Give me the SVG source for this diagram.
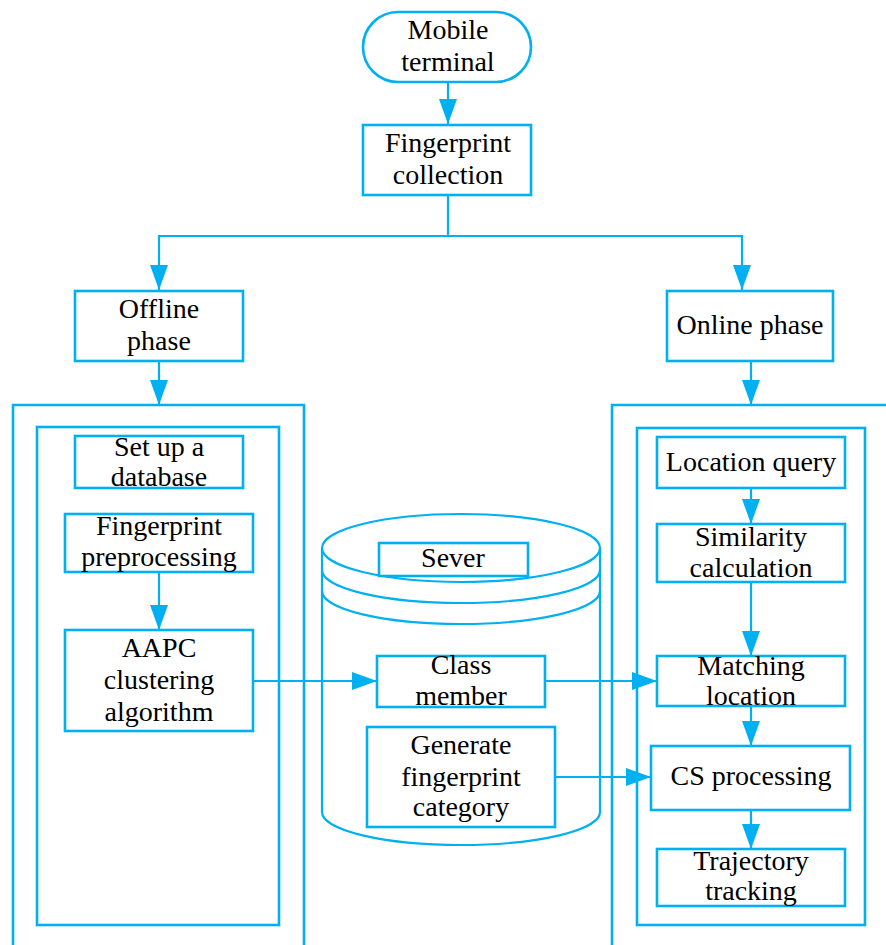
<svg xmlns="http://www.w3.org/2000/svg" width="886" height="945" viewBox="0 0 886 945">
<defs>
<style>
.b{fill:#fff;stroke:#00B0F0;stroke-width:2.6}
.f{fill:none;stroke:#00B0F0;stroke-width:2.6}
.c{fill:none;stroke:#00B0F0;stroke-width:2.2}
.t{font-family:"Liberation Serif","Times New Roman",serif;font-size:28px;fill:#000;text-anchor:middle}
</style>
<marker id="ah" viewBox="0 0 25 18" refX="25" refY="9" markerWidth="25" markerHeight="18" markerUnits="userSpaceOnUse" orient="auto">
<path d="M0,0 L25,9 L0,18 Z" fill="#00B0F0"/>
</marker>
</defs>
<rect width="886" height="945" fill="#fff"/>

<g id="frames">
<path class="f" d="M13,945 V405 H304 V945"/>
<rect class="f" x="37" y="427" width="242" height="498"/>
<path class="f" d="M612,945 V405 H886"/>
<rect class="f" x="637" y="428" width="228" height="497"/>
</g>

<g id="server">
<path class="c" d="M322,548 V812 A139,33 0 0 0 600,812 V548"/>
<ellipse class="c" cx="461" cy="548" rx="139" ry="34"/>
<path class="c" d="M322,570 A139,33 0 0 0 600,570"/>
<path class="c" d="M322,591 A139,33 0 0 0 600,591"/>
</g>

<g id="connectors" class="c">
<path d="M448,82 V124" marker-end="url(#ah)"/>
<path d="M448,195 V236 H159 V290" marker-end="url(#ah)"/>
<path d="M448,236 H742 V290" marker-end="url(#ah)"/>
<path d="M159,361 V405" marker-end="url(#ah)"/>
<path d="M751,361 V405" marker-end="url(#ah)"/>
<path d="M159,572 V630" marker-end="url(#ah)"/>
<path d="M253,681 H377" marker-end="url(#ah)"/>
<path d="M545,681 H657" marker-end="url(#ah)"/>
<path d="M555,777 H651" marker-end="url(#ah)"/>
<path d="M751,488 V524" marker-end="url(#ah)"/>
<path d="M751,582 V656" marker-end="url(#ah)"/>
<path d="M751,706 V746" marker-end="url(#ah)"/>
<path d="M751,810 V849" marker-end="url(#ah)"/>
</g>

<g id="mobile-terminal">
<rect class="b" x="363" y="12" width="168" height="70" rx="35" ry="35"/>
<text class="t" x="448" y="39">Mobile</text>
<text class="t" x="448" y="71">terminal</text>
</g>
<g id="fingerprint-collection">
<rect class="b" x="363" y="125" width="168" height="70"/>
<text class="t" x="448" y="152">Fingerprint</text>
<text class="t" x="448" y="184">collection</text>
</g>
<g id="offline-phase">
<rect class="b" x="75" y="291" width="168" height="70"/>
<text class="t" x="159" y="318">Offline</text>
<text class="t" x="159" y="350">phase</text>
</g>
<g id="online-phase">
<rect class="b" x="667" y="291" width="166" height="70"/>
<text class="t" x="750" y="334">Online phase</text>
</g>

<g id="set-up-database">
<rect class="b" x="75" y="436" width="168" height="52"/>
<text class="t" x="159" y="456">Set up a</text>
<text class="t" x="159" y="486">database</text>
</g>
<g id="fingerprint-preprocessing">
<rect class="b" x="65" y="514" width="188" height="58"/>
<text class="t" x="159" y="535">Fingerprint</text>
<text class="t" x="159" y="566">preprocessing</text>
</g>
<g id="aapc">
<rect class="b" x="65" y="630" width="188" height="101"/>
<text class="t" x="159" y="657">AAPC</text>
<text class="t" x="159" y="689">clustering</text>
<text class="t" x="159" y="721">algorithm</text>
</g>

<g id="sever">
<rect class="b" x="379" y="543" width="149" height="33"/>
<text class="t" x="453" y="567">Sever</text>
</g>
<g id="class-member">
<rect class="b" x="377" y="656" width="168" height="51"/>
<text class="t" x="461" y="674">Class</text>
<text class="t" x="461" y="705">member</text>
</g>
<g id="generate-category">
<rect class="b" x="367" y="727" width="188" height="100"/>
<text class="t" x="461" y="754">Generate</text>
<text class="t" x="461" y="786">fingerprint</text>
<text class="t" x="461" y="816">category</text>
</g>

<g id="location-query">
<rect class="b" x="657" y="437" width="188" height="51"/>
<text class="t" x="751" y="471">Location query</text>
</g>
<g id="similarity-calculation">
<rect class="b" x="657" y="524" width="188" height="58"/>
<text class="t" x="751" y="546">Similarity</text>
<text class="t" x="751" y="577">calculation</text>
</g>
<g id="matching-location">
<rect class="b" x="657" y="656" width="188" height="50"/>
<text class="t" x="751" y="675">Matching</text>
<text class="t" x="751" y="705">location</text>
</g>
<g id="cs-processing">
<rect class="b" x="651" y="746" width="199" height="64"/>
<text class="t" x="751" y="785">CS processing</text>
</g>
<g id="trajectory-tracking">
<rect class="b" x="657" y="849" width="188" height="57"/>
<text class="t" x="751" y="870">Trajectory</text>
<text class="t" x="751" y="900">tracking</text>
</g>
</svg>
